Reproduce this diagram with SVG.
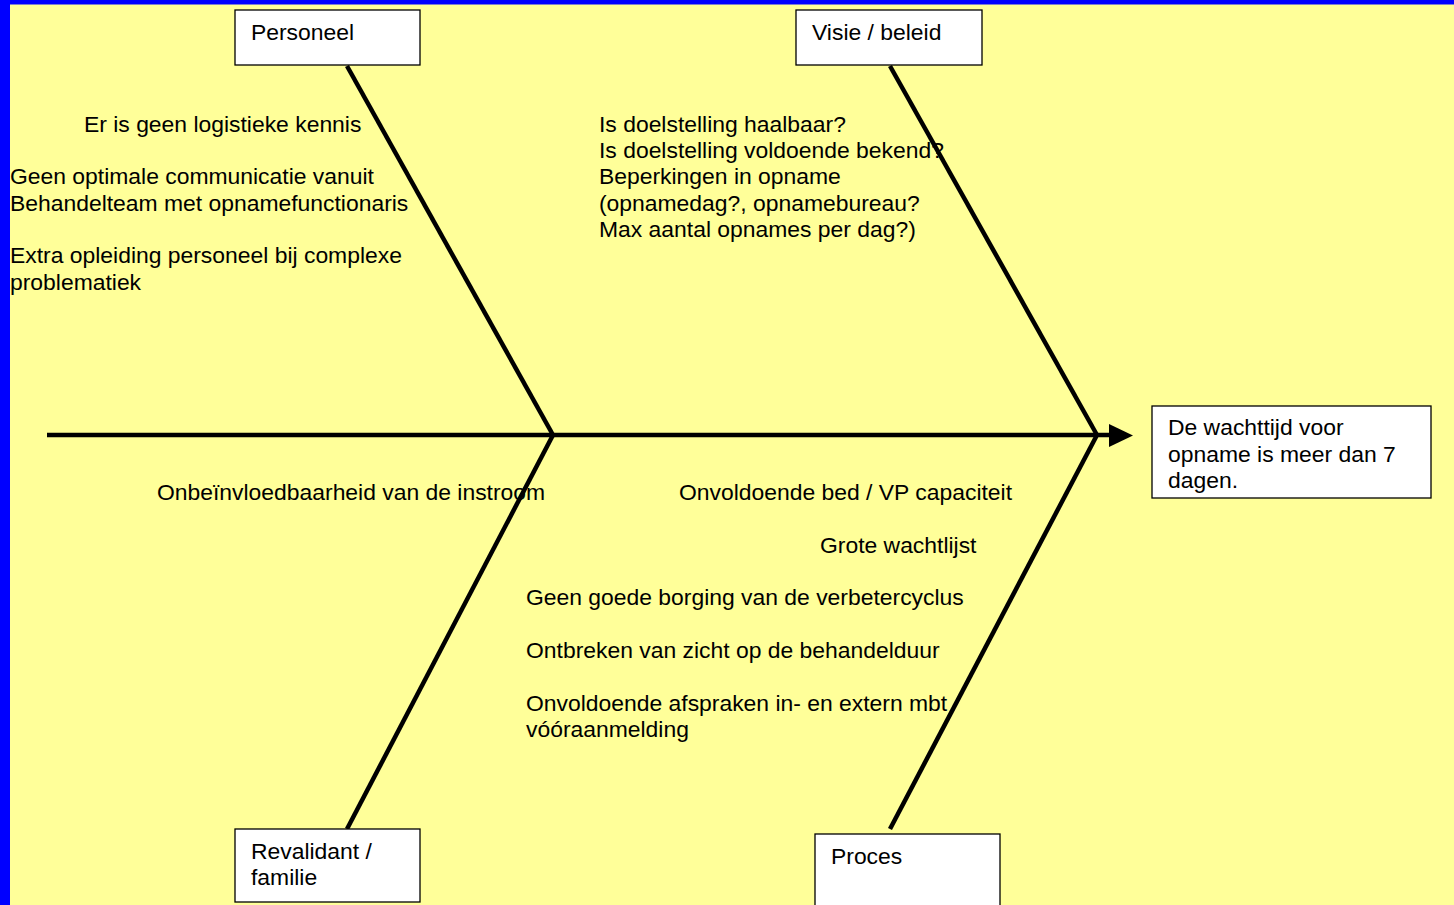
<svg xmlns="http://www.w3.org/2000/svg" width="1454" height="905" viewBox="0 0 1454 905">
<style>
text{font-family:"Liberation Sans",Arial,sans-serif;font-size:22.9px;fill:#000}
.box{fill:#fff;stroke:#000;stroke-width:1.3}
.bone{stroke:#000;stroke-width:4.5;fill:none;stroke-linecap:butt}
</style>
<rect x="0" y="0" width="1454" height="905" fill="#0000ff"/>
<rect x="10" y="4.5" width="1444" height="900.5" fill="#ffff99"/>
<g id="connectors">
<line class="bone" x1="47" y1="435" x2="1110" y2="435"/>
<polygon points="1109,424 1133,435.5 1109,447" fill="#000"/>
<line class="bone" x1="347" y1="66" x2="553" y2="435"/>
<line class="bone" x1="890" y1="66" x2="1097" y2="435"/>
<line class="bone" x1="553" y1="435" x2="347" y2="829"/>
<line class="bone" x1="1097" y1="435" x2="890" y2="829"/>
</g>
<g id="personeel">
<rect class="box" x="235" y="10" width="185" height="55"/>
<text x="251" y="40">Personeel</text>
</g>
<g id="visie">
<rect class="box" x="796" y="10" width="186" height="55"/>
<text x="812" y="40">Visie / beleid</text>
</g>
<g id="revalidant">
<rect class="box" x="235" y="829" width="185" height="73"/>
<text x="251" y="859">Revalidant /</text>
<text x="251" y="885">familie</text>
</g>
<g id="proces">
<rect class="box" x="815" y="834" width="185" height="80"/>
<text x="831" y="864">Proces</text>
</g>
<g id="result">
<rect class="box" x="1152" y="406" width="279" height="92"/>
<text x="1168" y="435">De wachttijd voor</text>
<text x="1168" y="462">opname is meer dan 7</text>
<text x="1168" y="488">dagen.</text>
</g>
<g id="personeel-causes">
<text x="84" y="132">Er is geen logistieke kennis</text>
<text x="10" y="184">Geen optimale communicatie vanuit</text>
<text x="10" y="211">Behandelteam met opnamefunctionaris</text>
<text x="10" y="263">Extra opleiding personeel bij complexe</text>
<text x="10" y="290">problematiek</text>
</g>
<g id="visie-causes">
<text x="599" y="132">Is doelstelling haalbaar?</text>
<text x="599" y="158">Is doelstelling voldoende bekend?</text>
<text x="599" y="184">Beperkingen in opname</text>
<text x="599" y="211">(opnamedag?, opnamebureau?</text>
<text x="599" y="237">Max aantal opnames per dag?)</text>
</g>
<g id="revalidant-causes">
<text x="157" y="500">Onbeïnvloedbaarheid van de instroom</text>
</g>
<g id="proces-causes">
<text x="679" y="500">Onvoldoende bed / VP capaciteit</text>
<text x="820" y="553">Grote wachtlijst</text>
<text x="526" y="605">Geen goede borging van de verbetercyclus</text>
<text x="526" y="658">Ontbreken van zicht op de behandelduur</text>
<text x="526" y="711">Onvoldoende afspraken in- en extern mbt</text>
<text x="526" y="737">vóóraanmelding</text>
</g>
</svg>
